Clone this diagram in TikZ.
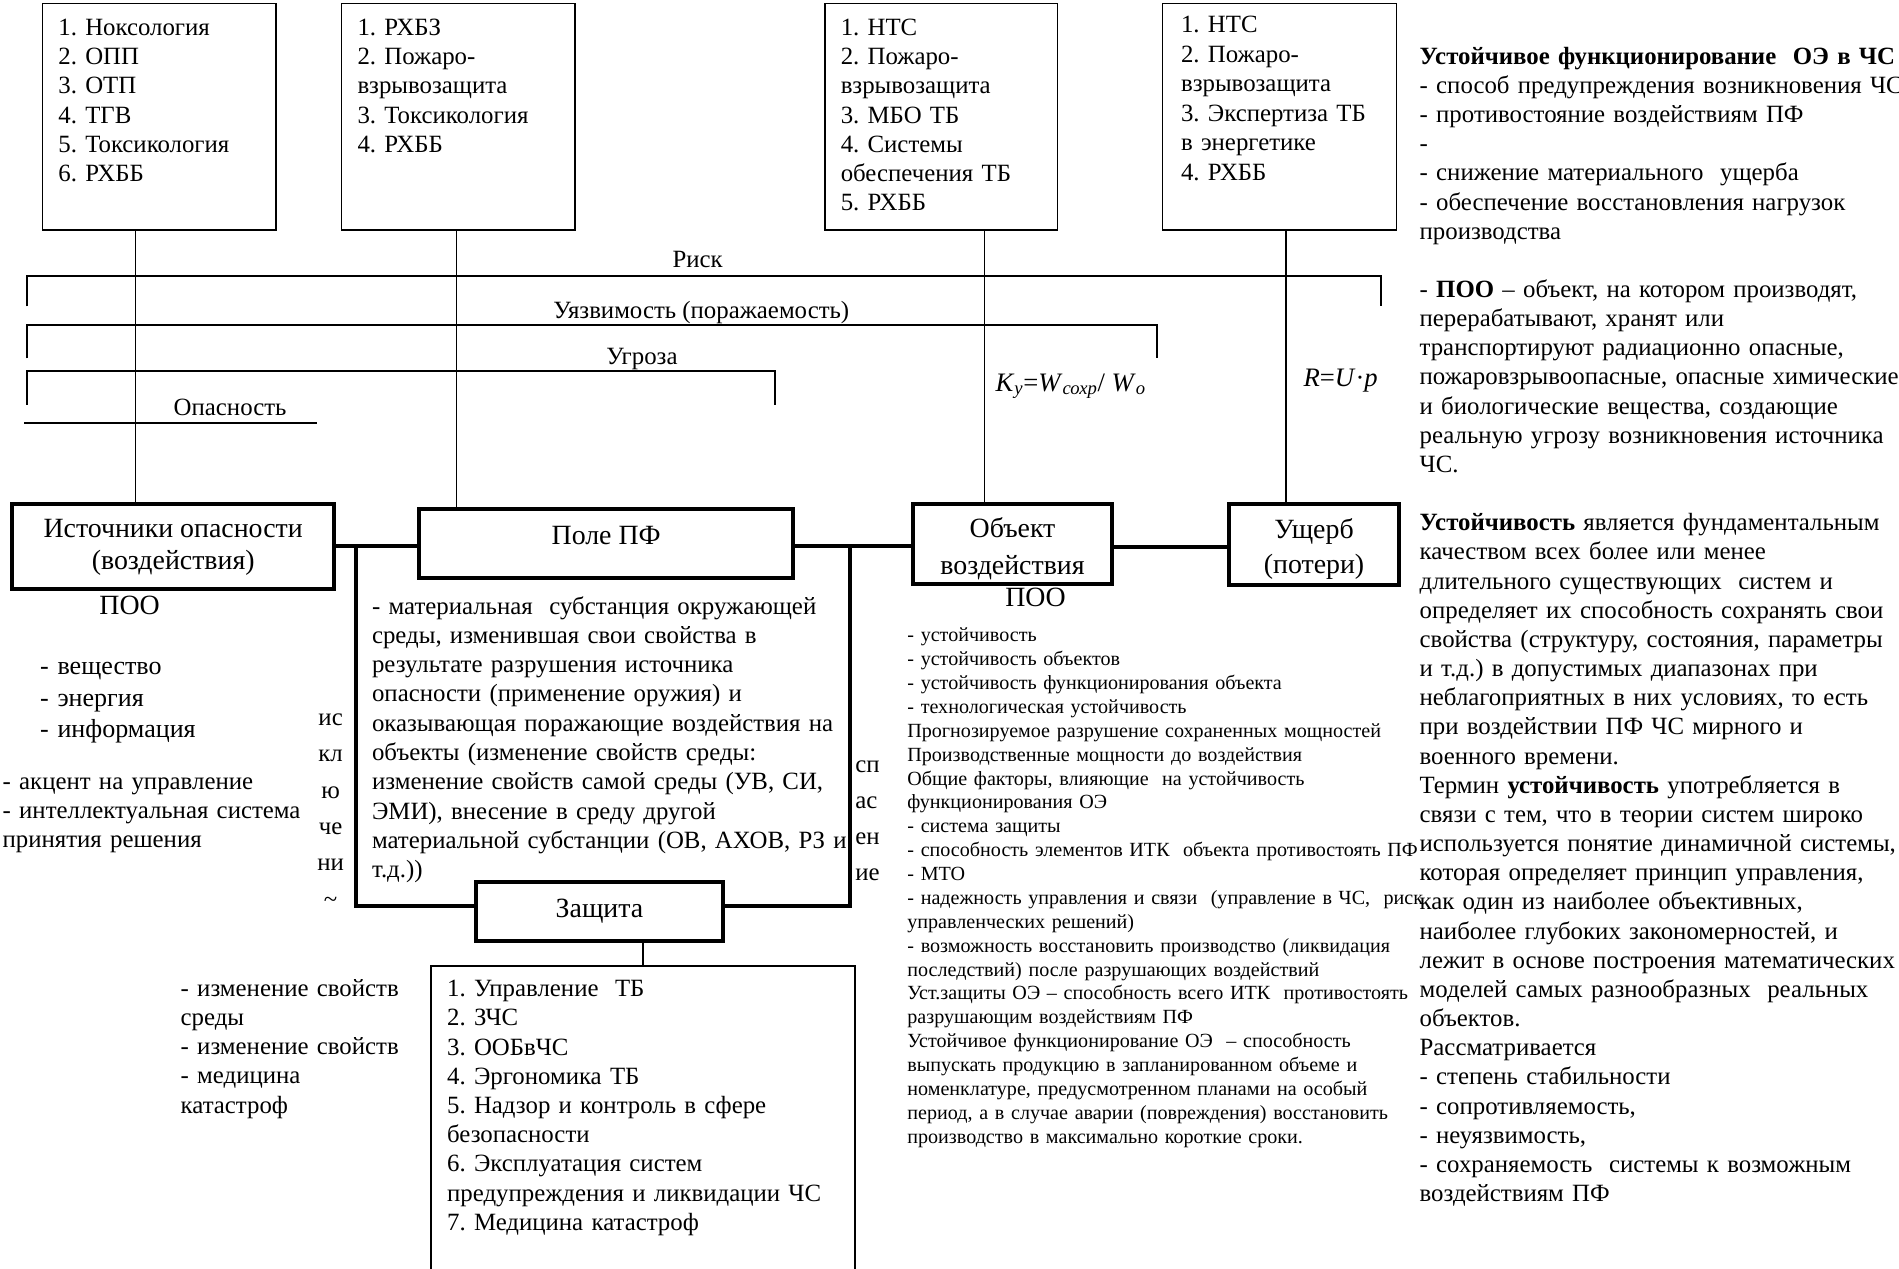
\documentclass[tikz,border=0pt]{standalone}
\usepackage{fontspec}
\setmainfont{Liberation Serif}
\frenchspacing
\begin{document}
\begin{tikzpicture}[x=1pt,y=-1pt,
  thinbox/.style={draw, line width=1.3pt, inner sep=0pt},
  mainbox/.style={draw, line width=3.2pt, inner sep=0pt},
  boxtext/.style={inner sep=0pt, align=center, font=\fontsize{23}{26}\selectfont},
  thinline/.style={line width=1.3pt},
  thickline/.style={line width=3.2pt},
  brline/.style={line width=1.6pt},
  txt/.style={inner sep=0pt, anchor=base west, align=left, text width=#1, font=\fontsize{20.5}{24.2}\selectfont},
  txt/.default=400pt,
  lbl/.style={inner sep=0pt, anchor=base, font=\fontsize{20.5}{24}\selectfont},
  big/.style={inner sep=0pt, anchor=base, font=\fontsize{23}{26}\selectfont},
]
\fill[white] (0,0) rectangle (1568,1047);
\useasboundingbox (0,0) rectangle (1568,1047);

% top boxes
\node[thinbox, minimum width=193pt, minimum height=187pt] (b1) at (131.5,96.5) {};
\node[thinbox, minimum width=193pt, minimum height=187pt] (b2) at (378.5,96.5) {};
\node[thinbox, minimum width=192pt, minimum height=187pt] (b3) at (777,96.5) {};
\node[thinbox, minimum width=193pt, minimum height=187pt] (b4) at (1056.5,96.5) {};

\node[txt=180pt] (t1) at (48,29) {1. Ноксология\\2. ОПП\\3. ОТП\\4. ТГВ\\5. Токсикология\\6. РХББ};
\node[txt=180pt] (t2) at (295,29) {1. РХБЗ\\2. Пожаро-\\взрывозащита\\3. Токсикология\\4. РХББ};
\node[txt=180pt] (t3) at (694,29) {1. НТС\\2. Пожаро-\\взрывозащита\\3. МБО ТБ\\4. Системы\\обеспечения ТБ\\5. РХББ};
\node[txt=180pt, font=\fontsize{20.5}{24.4}\selectfont] (t4) at (975,27) {1. НТС\\2. Пожаро-\\взрывозащита\\3. Экспертиза ТБ\\в энергетике\\4. РХББ};

% main boxes
\node[mainbox, minimum width=266pt, minimum height=70pt] (src) at (143,451) {};
\node[mainbox, minimum width=309pt, minimum height=57pt] (pole) at (500.5,448.5) {};
\node[mainbox, minimum width=164pt, minimum height=66pt] (obj) at (836,449) {};
\node[mainbox, minimum width=140pt, minimum height=67pt] (dmg) at (1085,449.5) {};
\node[mainbox, minimum width=204pt, minimum height=49pt] (zash) at (495,752.5) {};
\node[thinbox, minimum width=350pt, minimum height=260pt, anchor=north] (bb) at (531,797) {};

\node[boxtext] (srct) at (143,452) {Источники опасности\\(воздействия)};
\node[boxtext] (polet) at (500.5,442) {Поле ПФ};
\node[boxtext, font=\fontsize{23}{30}\selectfont] (objt) at (836,453) {Объект\\воздействия};
\node[boxtext, font=\fontsize{23}{29}\selectfont] (dmgt) at (1085,453) {Ущерб\\(потери)};
\node[boxtext] (zasht) at (495,752) {Защита};

% vertical connectors from top boxes
\coordinate (v1) at (112,0);
\coordinate (v2) at (377,0);
\coordinate (v3) at (813,0);
\coordinate (v4) at (1062,0);
\draw[thinline] (b1.south -| v1) -- (src.north -| v1);
\draw[thinline] (b2.south -| v2) -- (pole.north -| v2);
\draw[thinline] (b3.south -| v3) -- (obj.north -| v3);
\draw[thinline] (b4.south -| v4) -- (dmg.north -| v4);

% thick connectors
\coordinate (cy) at (0,451);
\coordinate (cy2) at (0,452);
\draw[thickline] (src.east |- cy) -- (pole.west |- cy);
\draw[thickline] (pole.east |- cy) -- (obj.west |- cy);
\draw[thickline] (obj.east |- cy2) -- (dmg.west |- cy2);
\coordinate (bl) at (294,451);
\coordinate (br) at (702,451);
\coordinate (by) at (0,748);
\draw[thickline] (bl) -- (bl |- by) -- (zash.west |- by);
\draw[thickline] (br) -- (br |- by) -- (zash.east |- by);
\draw[thinline] (zash.south -| bb.north) -- (bb.north);

% bracket lines
\draw[brline] (22,253) -- (22,228) -- (1140,228) -- (1140,253);
\draw[brline] (22,296) -- (22,268) -- (955,268) -- (955,296);
\draw[brline] (22,334) -- (22,306) -- (640,306) -- (640,334);
\draw[brline] (20,349) -- (262,349);
\node[lbl] (risk) at (576,221) {Риск};
\node[lbl] (vuln) at (579,263) {Уязвимость (поражаемость)};
\node[lbl] (threat) at (530,301) {Угроза};
\node[lbl] (danger) at (190,343) {Опасность};
\node[inner sep=0pt, anchor=base, font=\fontsize{22}{24}\selectfont] (fk) at (884,323) {\textit{K}\textsubscript{\textit{у}}=\textit{W}\textsubscript{\textit{сохр}}/ \textit{W}\textsubscript{\textit{о}}};
\node[inner sep=0pt, anchor=base, font=\fontsize{22}{24}\selectfont] (fr) at (1107,319) {\textit{R}=\textit{U}·\textit{p}};

% labels around main boxes
\node[big] (poo1) at (107,507) {ПОО};
\node[big] (poo2) at (855,501) {ПОО};
\node[txt=250pt, font=\fontsize{21.5}{26}\selectfont] (lst1) at (33,557) {- вещество\\- энергия\\- информация};
\node[txt=300pt, font=\fontsize{20.5}{24}\selectfont] (lst2) at (2,652) {- акцент на управление\\- интеллектуальная система\\принятия решения};
\node[inner sep=0pt, anchor=base, align=center, text width=40pt, font=\fontsize{20.5}{30}\selectfont] (vl) at (273,599) {ис\\кл\\ю\\че\\ни\\\textasciitilde};
\node[txt=40pt, font=\fontsize{20.5}{29.7}\selectfont] (vr) at (706,638) {сп\\ас\\ен\\ие};

\node[txt=420pt] (poletxt) at (307,507) {- материальная\ \ субстанция окружающей\\среды, изменившая свои свойства в\\результате разрушения источника\\опасности (применение оружия) и\\оказывающая поражающие воздействия на\\объекты (изменение свойств среды:\\изменение свойств самой среды (УВ, СИ,\\ЭМИ), внесение в среду другой\\материальной субстанции (ОВ, АХОВ, РЗ и\\т.д.))};

\node[txt=480pt, font=\fontsize{16.6}{19.71}\selectfont] (objtxt) at (749,530) {- устойчивость\\- устойчивость объектов\\- устойчивость функционирования объекта\\- технологическая устойчивость\\Прогнозируемое разрушение сохраненных мощностей\\Производственные мощности до воздействия\\Общие факторы, влияющие\ \ на устойчивость\\функционирования ОЭ\\- система защиты\\- способность элементов ИТК\ \ объекта противостоять ПФ\\- МТО\\- надежность управления и связи\ \ (управление в ЧС,\ \ риск\\управленческих решений)\\- возможность восстановить производство (ликвидация\\последствий) после разрушающих воздействий\\Уст.защиты ОЭ – способность всего ИТК\ \ противостоять\\разрушающим воздействиям ПФ\\Устойчивое функционирование ОЭ\ \ – способность\\выпускать продукцию в запланированном объеме и\\номенклатуре, предусмотренном планами на особый\\период, а в случае аварии (повреждения) восстановить\\производство в максимально короткие сроки.};

\node[txt=520pt, font=\fontsize{20.5}{24.08}\selectfont] (right) at (1172,53) {\textbf{Устойчивое функционирование\ \ ОЭ в ЧС}\\- способ предупреждения возникновения ЧС\\- противостояние воздействиям ПФ\\-\\- снижение материального\ \ ущерба\\- обеспечение восстановления нагрузок\\производства\\\mbox{}\\- \textbf{ПОО} – объект, на котором производят,\\перерабатывают, хранят или\\транспортируют радиационно опасные,\\пожаровзрывоопасные, опасные химические\\и биологические вещества, создающие\\реальную угрозу возникновения источника\\ЧС.\\\mbox{}\\\textbf{Устойчивость} является фундаментальным\\качеством всех более или менее\\длительного существующих\ \ систем и\\определяет их способность сохранять свои\\свойства (структуру, состояния, параметры\\и т.д.) в допустимых диапазонах при\\неблагоприятных в них условиях, то есть\\при воздействии ПФ ЧС мирного и\\военного времени.\\Термин \textbf{устойчивость} употребляется в\\связи с тем, что в теории систем широко\\используется понятие динамичной системы,\\которая определяет принцип управления,\\как один из наиболее объективных,\\наиболее глубоких закономерностей, и\\лежит в основе построения математических\\моделей самых разнообразных\ \ реальных\\объектов.\\Рассматривается\\- степень стабильности\\- сопротивляемость,\\- неуязвимость,\\- сохраняемость\ \ системы к возможным\\воздействиям ПФ};

\node[txt=220pt, font=\fontsize{20.5}{24}\selectfont] (blt) at (149,823) {- изменение свойств\\среды\\- изменение свойств\\- медицина\\катастроф};
\node[txt=340pt, font=\fontsize{20.5}{24.1}\selectfont] (bbt) at (369,823) {1. Управление\ \ ТБ\\2. ЗЧС\\3. ООБвЧС\\4. Эргономика ТБ\\5. Надзор и контроль в сфере\\безопасности\\6. Эксплуатация систем\\предупреждения и ликвидации ЧС\\7. Медицина катастроф};
\end{tikzpicture}
\end{document}
